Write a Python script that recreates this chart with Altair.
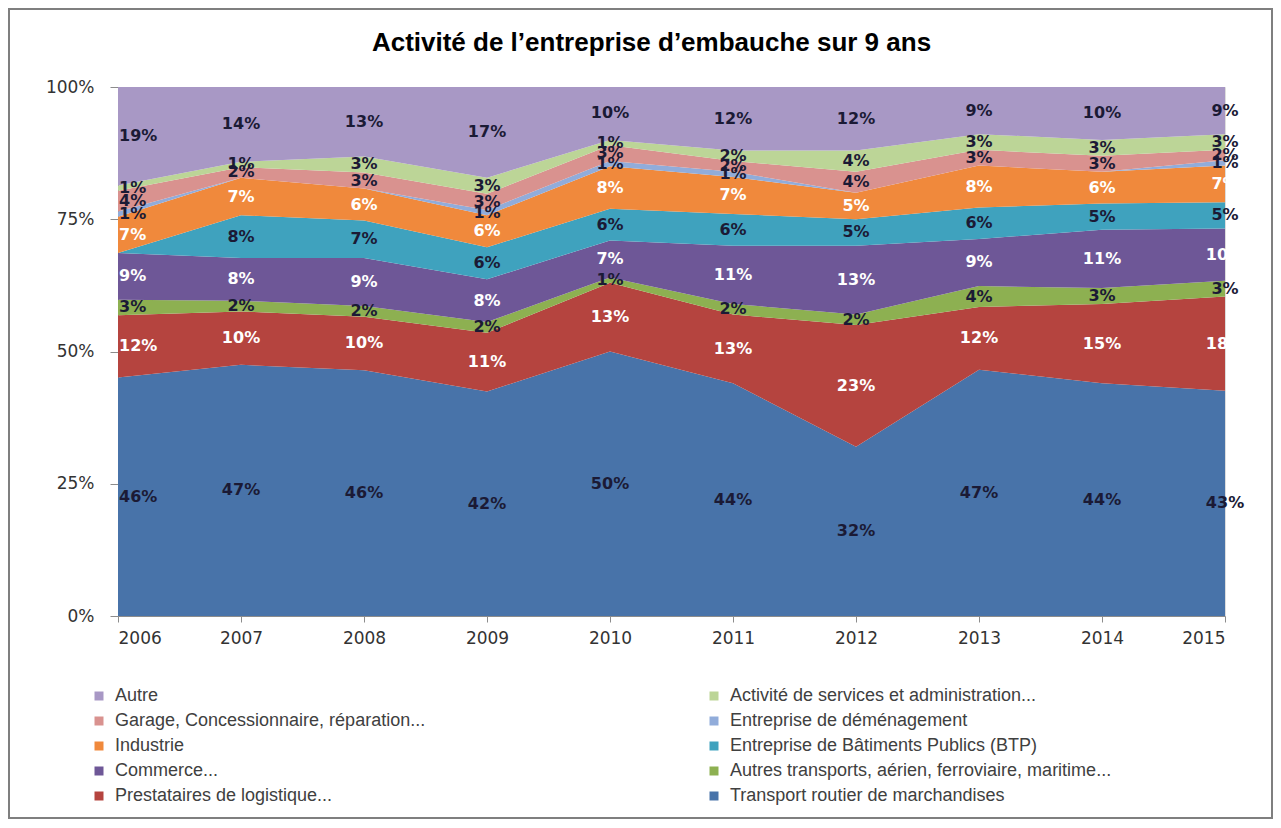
import altair as alt
import pandas as pd

years = [2006, 2007, 2008, 2009, 2010, 2011, 2012, 2013, 2014, 2015]

# series, from the bottom of the stack to the top
series_names = [
    "Transport routier de marchandises",
    "Prestataires de logistique...",
    "Autres transports, aérien, ferroviaire, maritime...",
    "Commerce...",
    "Entreprise de Bâtiments Publics (BTP)",
    "Industrie",
    "Entreprise de déménagement",
    "Garage, Concessionnaire,  réparation...",
    "Activité de services  et administration...",
    "Autre",
]
transport_routier = [46, 47, 46, 42, 50, 44, 32, 47, 44, 43]
prestataires = [12, 10, 10, 11, 13, 13, 23, 12, 15, 18]
autres_transports = [3, 2, 2, 2, 1, 2, 2, 4, 3, 3]
commerce = [9, 8, 9, 8, 7, 11, 13, 9, 11, 10]
btp = [0, 8, 7, 6, 6, 6, 5, 6, 5, 5]
industrie = [7, 7, 6, 6, 8, 7, 5, 8, 6, 7]
demenagement = [1, 0, 0, 1, 1, 1, 0, 0, 0, 1]
garage = [4, 2, 3, 3, 3, 2, 4, 3, 3, 2]
activite = [1, 1, 3, 3, 1, 2, 4, 3, 3, 3]
autre = [19, 14, 13, 17, 10, 12, 12, 9, 10, 9]

series_values = [transport_routier, prestataires, autres_transports, commerce, btp,
                 industrie, demenagement, garage, activite, autre]
series_colors = ["#4873A9", "#B5443F", "#8DB051", "#6E5797", "#3FA2BE",
                 "#F0893C", "#91ACDA", "#D9928F", "#BCD597", "#A898C5"]
label_white = [False, True, False, True, False, True, False, False, False, False]

# legend: two columns, filled column by column
legend_rank_order = [9, 7, 5, 3, 1, 8, 6, 4, 2, 0]
legend_order = [series_names[i] for i in legend_rank_order]
legend_colors = [series_colors[i] for i in legend_rank_order]

rows = []
for rank, (name, vals, wt) in enumerate(zip(series_names, series_values, label_white)):
    for yr, v in zip(years, vals):
        rows.append({"year": yr, "serie": name, "rank": rank, "value": v,
                     "label": f"{v}%", "white": wt})
df = pd.DataFrame(rows)

base = alt.Chart(df).transform_stack(
    stack="value", groupby=["year"], as_=["y0", "y1"], offset="normalize",
    sort=[alt.SortField("rank", order="ascending")],
)

x_enc = alt.X("year:Q", scale=alt.Scale(domain=[2006, 2015], nice=False, zero=False),
              axis=alt.Axis(values=years, format="d", title=None, grid=False,
                            labelFont="DejaVu Sans", labelFontSize=17, labelColor="#333333",
                            tickColor="#8c8c8c", tickSize=6, domainColor="#8c8c8c",
                            labelPadding=8))

area = base.mark_area(opacity=1).encode(
    x=x_enc,
    y=alt.Y("y1:Q", stack=None, scale=alt.Scale(domain=[0, 1], nice=False),
            axis=alt.Axis(values=[0, 0.25, 0.5, 0.75, 1], format=".0%", title=None, grid=False,
                          labelFont="DejaVu Sans", labelFontSize=17, labelColor="#333333",
                          tickColor="#8c8c8c", tickSize=8, domainColor="#8c8c8c",
                          labelPadding=16)),
    y2="y0:Q",
    color=alt.Color("serie:N", sort=legend_order,
                    scale=alt.Scale(domain=legend_order, range=legend_colors),
                    legend=alt.Legend(orient="none", legendX=-28, legendY=600, columns=2,
                                      columnPadding=274, rowPadding=7, padding=0,
                                      symbolType="square", symbolSize=81,
                                      symbolStrokeWidth=0, labelFont="Liberation Sans",
                                      labelFontSize=18, labelColor="#404040",
                                      labelLimit=800, title=None, labelOffset=7)),
    order=alt.Order("rank:Q"),
)

labels = base.transform_calculate(mid="(datum.y0 + datum.y1) / 2").transform_filter(
    "datum.value > 0")

txt_color = alt.condition("datum.white", alt.value("#FFFFFF"), alt.value("#1B1A35"))

text_first = labels.transform_filter("datum.year == 2006").mark_text(
    font="DejaVu Sans", fontSize=16, fontWeight="bold", align="left", dx=1
).encode(x="year:Q", y="mid:Q", text="label:N", color=txt_color)

text_rest = labels.transform_filter("datum.year > 2006").mark_text(
    font="DejaVu Sans", fontSize=16, fontWeight="bold", align="center"
).encode(x="year:Q", y="mid:Q", text="label:N", color=txt_color)

frame = alt.Chart(pd.DataFrame({"a": [0]})).mark_rect(
    fill="transparent", stroke="#7f7f7f", strokeWidth=2
).encode(x=alt.value(-109), x2=alt.value(1154), y=alt.value(-78), y2=alt.value(731))

chart = alt.layer(area, text_first, text_rest, frame).properties(
    width=1107, height=529,
    title=alt.TitleParams("Activité de l’entreprise d’embauche sur 9 ans",
                          font="Liberation Sans", fontSize=26, fontWeight="bold",
                          color="#000000", anchor="middle", offset=-48, dx=-20),
    autosize=alt.AutoSizeParams(type="none"),
    padding={"left": 110, "top": 79, "right": 48, "bottom": 203},
).configure_view(stroke=None).configure(background="white")

chart.save("out.html", embed_options={"renderer": "svg", "actions": False})
